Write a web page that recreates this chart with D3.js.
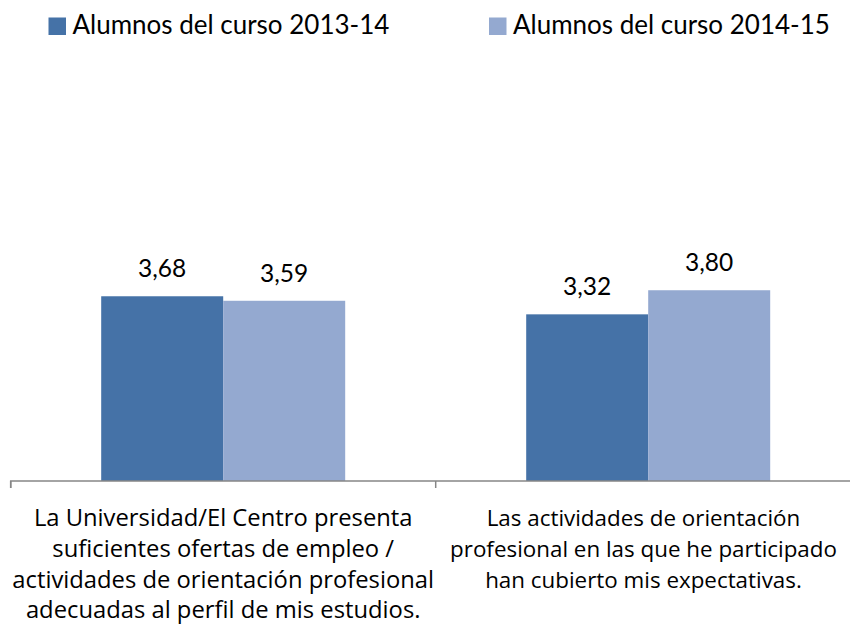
<!DOCTYPE html>
<html><head><meta charset="utf-8">
<script src="https://cdn.jsdelivr.net/npm/d3@7"></script>
<style>body{margin:0;background:#fff}svg{display:block}text{font-family:Lato,"Open Sans",sans-serif;fill:#000}</style>
</head><body><svg id="c" width="850" height="627"></svg>
<script>
const categories = [
  ["La Universidad/El Centro presenta","suficientes ofertas de empleo /","actividades de orientación profesional","adecuadas al perfil de mis estudios."],
  ["Las actividades de orientación","profesional en las que he participado","han cubierto mis expectativas."]
];
const seriesNames = ["Alumnos del curso 2013-14","Alumnos del curso 2014-15"];
const series2013 = [3.68, 3.32];
const series2014 = [3.59, 3.80];
const colors = ["#4572A7","#94A9D0"];

const svg = d3.select("#c");
const x0 = d3.scaleBand().domain([0,1]).range([10.7, 860.7]).paddingInner(0).paddingOuter(0);
const x1 = d3.scaleBand().domain([0,1]).range([90.5, 334.5]).padding(0);
const y = d3.scaleLinear().domain([0,5]).range([481, 230]);

const data = [series2013, series2014];
const fmt = v => d3.format(".2f")(v).replace(".", ",");

const g = svg.append("g");
categories.forEach((c, ci) => {
  const gx = x0(ci);
  data.forEach((s, si) => {
    const v = s[ci];
    g.append("rect")
      .attr("x", gx + x1(si)).attr("width", x1.bandwidth())
      .attr("y", y(v)).attr("height", y(0) - y(v))
      .attr("fill", colors[si]);
    g.append("text")
      .attr("x", gx + x1(si) + x1.bandwidth()/2).attr("y", y(v) - 19)
      .attr("text-anchor", "middle").attr("font-size", 24.5)
      .text(fmt(v));
  });
});

// axis
const ax = svg.append("g").attr("transform", "translate(0,481)");
ax.call(d3.axisBottom(x0).tickSize(7).tickFormat(""));
ax.select(".domain").attr("stroke", "#868686").attr("stroke-width", 1.5).attr("d", "M10.7,7V0H860.7V7");
ax.selectAll(".tick").remove();
[10.7, 435.7, 860.7].forEach(t => ax.append("line").attr("x1", t).attr("x2", t).attr("y1", 0).attr("y2", 7).attr("stroke", "#868686").attr("stroke-width", 1.5));

// category labels, fitted to the reference's line widths
const targetW = [422, 387];
categories.forEach((lines, ci) => {
  const t = svg.append("text").attr("text-anchor", "middle").attr("font-size", 21)
    .style("font-family", "'Open Sans', sans-serif");
  const spans = lines.map((l, li) => t.append("tspan").attr("y", 526 + li*30.8).text(l));
  const maxW = d3.max(spans, s => s.node().getComputedTextLength());
  const fs = 21 * targetW[ci] / maxW;
  t.attr("font-size", fs);
  const w = targetW[ci];
  const cx = Math.min(x0(ci) + x0.bandwidth()/2, 850 - 13 - w/2);
  spans.forEach(s => s.attr("x", cx));
});

// legend
const legX = [48.5, 489];
seriesNames.forEach((n, i) => {
  svg.append("rect").attr("x", legX[i]).attr("y", 17.5).attr("width", 17.5).attr("height", 17.5).attr("fill", colors[i]);
  svg.append("text").attr("x", legX[i] + 24).attr("y", 33.5).attr("font-size", 26).text(n);
});
</script></body></html>
